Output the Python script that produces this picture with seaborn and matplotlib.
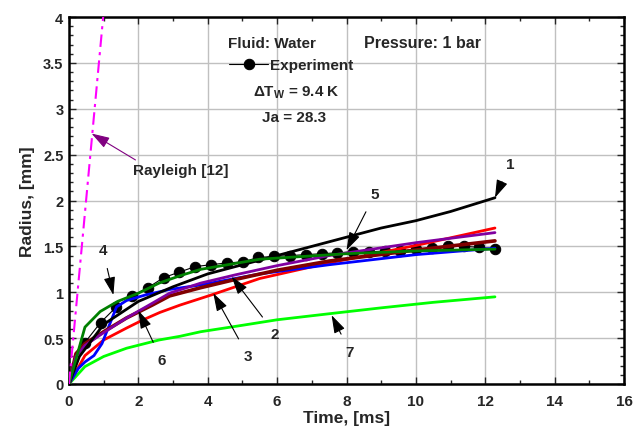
import numpy as np
import pandas as pd
import matplotlib
matplotlib.use("Agg")
import matplotlib.pyplot as plt
import seaborn as sns

# ---- measured bubble radius (water, 1 bar) ----
exp_t = [0.455, 0.91, 1.365, 1.82, 2.275, 2.73, 3.185, 3.64, 4.095, 4.55,
         5.005, 5.46, 5.915, 6.37, 6.825, 7.28, 7.735, 8.19, 8.645, 9.10,
         9.555, 10.01, 10.465, 10.92, 11.375, 11.83, 12.285]
exp_r = [0.45, 0.67, 0.84, 0.96, 1.05, 1.16, 1.22, 1.28, 1.30, 1.32,
         1.33, 1.38, 1.39, 1.40, 1.41, 1.42, 1.43, 1.44, 1.44, 1.45,
         1.45, 1.47, 1.48, 1.50, 1.50, 1.49, 1.47]

# ---- model predictions ----
m1_t = [0, 0.3, 1, 2, 3, 4, 5, 6, 7, 8, 9, 10, 11, 12.28]
m1_r = [0, 0.30, 0.65, 0.90, 1.06, 1.20, 1.30, 1.40, 1.50, 1.60, 1.70, 1.78, 1.88, 2.03]

m2_t = [0, 0.27, 0.46, 0.72, 0.95, 1.15, 1.37, 1.66, 2.2, 2.9, 3.8, 5.5, 7.5, 10, 12.28]
m2_r = [0, 0.17, 0.24, 0.31, 0.44, 0.63, 0.84, 0.91, 0.97, 1.03, 1.08, 1.20, 1.30, 1.41, 1.48]

m3_t = [0, 0.46, 1, 1.66, 2.14, 2.62, 3.2, 4.1, 5.5, 7.5, 10, 12.28]
m3_r = [0, 0.31, 0.48, 0.61, 0.70, 0.78, 0.86, 0.97, 1.15, 1.32, 1.51, 1.70]

m4_t = [0, 0.46, 0.9, 1.4, 2.0, 2.6, 3.2, 3.8, 5.5, 8, 10, 12.28]
m4_r = [0, 0.62, 0.79, 0.90, 0.99, 1.10, 1.18, 1.25, 1.36, 1.42, 1.45, 1.47]

m5_t = [0, 0.2, 0.46, 1, 1.66, 2.4, 2.9, 3.8, 4.8, 6, 7.5, 10, 12.28]
m5_r = [0, 0.30, 0.42, 0.56, 0.72, 0.88, 0.99, 1.10, 1.19, 1.29, 1.40, 1.54, 1.65]

m6_t = [0, 0.2, 0.46, 1, 1.66, 2.4, 2.9, 3.8, 4.8, 6, 7.5, 10, 12.28]
m6_r = [0, 0.33, 0.44, 0.57, 0.72, 0.86, 0.96, 1.05, 1.14, 1.24, 1.34, 1.46, 1.56]

m7_t = [0, 0.46, 1, 1.66, 2.6, 3.2, 3.8, 5, 6, 7.6, 9, 10.5, 12.28]
m7_r = [0, 0.19, 0.30, 0.39, 0.48, 0.52, 0.57, 0.64, 0.70, 0.77, 0.83, 0.89, 0.95]

ray_t = [0, 1.0]
ray_r = [0, 4.06]

# ---- figure ----
sns.set_style("ticks")
plt.rcParams["font.family"] = ["Liberation Sans", "DejaVu Sans"]
plt.rcParams["font.weight"] = "bold"
plt.rcParams["mathtext.fontset"] = "custom"
plt.rcParams["mathtext.rm"] = "Liberation Sans:bold"
plt.rcParams["mathtext.bf"] = "Liberation Sans:bold"

fig = plt.figure(figsize=(6.34, 4.35), dpi=100)
ax = fig.add_axes([69 / 634, 1 - 385 / 435, (624 - 69) / 634, (385 - 18) / 435])

def curve(t, r, color, lw=2.0, z=3, **kw):
    df = pd.DataFrame({"t": t, "r": r})
    sns.lineplot(data=df, x="t", y="r", ax=ax, color=color, lw=lw,
                 sort=False, estimator=None, zorder=z, **kw)

exp_df = pd.DataFrame({"t": exp_t, "r": exp_r})
sns.lineplot(data=exp_df, x="t", y="r", ax=ax, color="black", lw=0.8,
             marker="o", markersize=7.5, markeredgecolor="black",
             sort=False, estimator=None, zorder=2, label="Experiment")

curve(m7_t, m7_r, "#00ff00")
curve(m3_t, m3_r, "#ff0000")
curve(m2_t, m2_r, "#0000ff")
curve(m6_t, m6_r, "#800000", lw=2.6)
curve(m5_t, m5_r, "#8000a0")
curve(m1_t, m1_r, "black")
curve(m4_t, m4_r, "#008000")
curve(ray_t, ray_r, "#ff00ff", lw=1.5, linestyle=(0, (6, 2.5, 1.5, 2.5)))

ax.set_xlim(0, 16)
ax.set_ylim(0, 4)
ax.set_xticks(np.arange(0, 17, 2))
ax.set_xticks(np.arange(0, 17, 1), minor=True)
ax.set_yticks(np.arange(0, 4.01, 0.5))
ax.set_yticks(np.arange(0, 4.01, 0.1), minor=True)
ax.set_xticklabels([str(v) for v in range(0, 17, 2)])
ax.set_yticklabels(["0", "0.5", "1", "1.5", "2", "2.5", "3", "3.5", "4"])
ax.grid(True, which="major", color="#c0c0c0", lw=1.0, zorder=0)
ax.set_axisbelow(True)
ax.tick_params(which="both", direction="in", top=True, right=True,
               width=1.0)
ax.tick_params(axis="x", labelsize=11, pad=7)
ax.tick_params(axis="y", labelsize=10.5, pad=4)
ax.tick_params(which="major", length=5)
ax.tick_params(which="minor", length=3)
for s in ax.spines.values():
    s.set_linewidth(1.8)
    s.set_color("black")

ax.set_xlabel("Time, [ms]", fontsize=12.5, fontweight="bold", labelpad=2)
ax.set_ylabel("Radius, [mm]", fontsize=12.5, fontweight="bold", labelpad=6)

# annotations
tkw = dict(fontsize=11, fontweight="bold", ha="center", va="center")
ax.text(5.85, 3.72, "Fluid: Water", **tkw)
ax.text(10.2, 3.72, "Pressure: 1 bar", fontsize=11.5, fontweight="bold",
        ha="center", va="center")
ax.text(6.55, 3.19, r"ΔT$_{\mathrm{W}}$ = 9.4 K", **tkw)
ax.text(6.5, 2.91, "Ja = 28.3", **tkw)

h, l = ax.get_legend_handles_labels()
ax.legend(h[:1], l[:1], loc="center", bbox_to_anchor=(0.40, 0.868),
          frameon=False, handlelength=2.6, handletextpad=0.1,
          prop=dict(size=11, weight="bold"))

arrow_black = dict(arrowstyle="-|>,head_length=1.0,head_width=0.32",
                   color="black", lw=0.8, shrinkA=6, shrinkB=0)
labels = [("1", (12.71, 2.40), (12.28, 2.03)),
          ("2", (5.94, 0.55), (4.69, 1.17)),
          ("3", (5.17, 0.30), (4.16, 0.99)),
          ("4", (0.98, 1.46), (1.28, 0.97)),
          ("5", (8.82, 2.07), (8.0, 1.46)),
          ("6", (2.67, 0.26), (2.0, 0.80)),
          ("7", (8.10, 0.35), (7.57, 0.75))]
for txt, xt, xy in labels:
    ax.annotate(txt, xy=xy, xytext=xt, arrowprops=arrow_black, **tkw)

ax.annotate("Rayleigh [12]", xy=(0.65, 2.73), xytext=(3.23, 2.33),
            arrowprops=dict(arrowstyle="-|>,head_length=1.0,head_width=0.32",
                            color="#800080", lw=0.8, shrinkA=0, shrinkB=0,
                            relpos=(0.08, 1.0)),
            **tkw)

fig.savefig("out.png", dpi=100)
